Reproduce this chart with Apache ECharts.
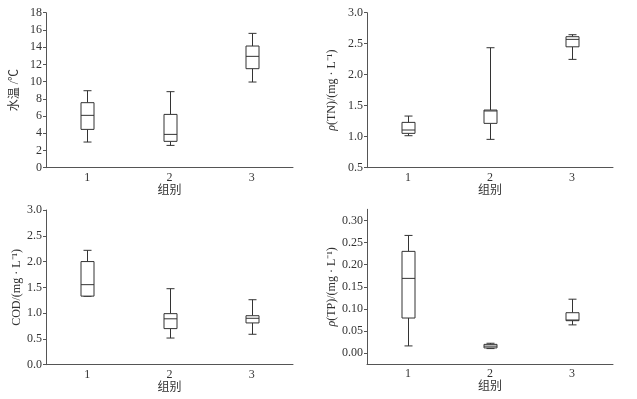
<!DOCTYPE html>
<html>
<head>
    <meta charset="utf-8">
    <title>ECharts</title>
    <script src="https://cdn.jsdelivr.net/npm/echarts@6/dist/echarts.min.js"></script>
    <style>
        body { margin: 0; background: #fff; }
    </style>
</head>
<body>
<div id="main" style="width:637px; height: 399px;"></div>
<script type="text/javascript">
    // 组别
    var groups = ['1', '2', '3'];
    // 每组: [下须, 下四分位, 中位数, 上四分位, 上须]
    var tempBox = [[2.98, 4.45, 6.08, 7.55, 8.94], [2.59, 3.06, 3.87, 6.19, 8.83], [9.95, 11.5, 12.93, 14.13, 15.6]];
    var tnBox = [[1.016, 1.054, 1.108, 1.231, 1.333], [0.957, 1.215, 1.415, 1.43, 2.435], [2.247, 2.45, 2.57, 2.613, 2.645]];
    var codBox = [[1.325, 1.33, 1.552, 2.0, 2.218], [0.517, 0.70, 0.89, 0.99, 1.474], [0.59, 0.81, 0.90, 0.95, 1.26]];
    var tpBox = [[0.0165, 0.0795, 0.169, 0.230, 0.266], [0.0105, 0.012, 0.016, 0.020, 0.0225], [0.064, 0.0735, 0.075, 0.0915, 0.122]];
    // TP 轴刻度
    var tpTicks = [0, 0.05, 0.10, 0.15, 0.20, 0.25, 0.30];

    var serif = '"Liberation Serif", "Noto Sans CJK SC"';
    var lineColor = '#333';

    function toData(box) {
        return box.map(function (b, i) { return [i].concat(b); });
    }

    // 自定义箱线图
    function renderBox(params, api) {
        var x = api.value(0);
        var lo = api.coord([x, api.value(1)]);
        var q1 = api.coord([x, api.value(2)]);
        var md = api.coord([x, api.value(3)]);
        var q3 = api.coord([x, api.value(4)]);
        var hi = api.coord([x, api.value(5)]);
        var cx = Math.round(lo[0]) + 0.5;
        var hw = 6.5, cw = 4;
        var st = { stroke: lineColor, lineWidth: 1, fill: null };
        return {
            type: 'group',
            children: [
                { type: 'line', shape: { x1: cx, y1: q3[1], x2: cx, y2: hi[1] }, style: st },
                { type: 'line', shape: { x1: cx - cw, y1: hi[1], x2: cx + cw, y2: hi[1] }, style: st },
                { type: 'line', shape: { x1: cx, y1: q1[1], x2: cx, y2: lo[1] }, style: st },
                { type: 'line', shape: { x1: cx - cw, y1: lo[1], x2: cx + cw, y2: lo[1] }, style: st },
                { type: 'rect', shape: { x: cx - hw, y: q3[1], width: hw * 2, height: q1[1] - q3[1] },
                    style: { stroke: lineColor, lineWidth: 1, fill: '#fff' } },
                { type: 'line', shape: { x1: cx - hw, y1: md[1], x2: cx + hw, y2: md[1] }, style: st }
            ]
        };
    }

    var grids = [
        { left: 46, top: 12.7, width: 247, height: 155 },
        { left: 367, top: 12.7, width: 246, height: 155 },
        { left: 46, top: 210, width: 247, height: 154.7 },
        { left: 367, top: 209.3, width: 246, height: 155 }
    ];

    function xAxisOf(i) {
        return {
            type: 'category', gridIndex: i, data: groups,
            name: '组别', nameLocation: 'middle', nameGap: 16,
            nameTextStyle: { fontFamily: serif, fontSize: 12, color: '#333' },
            axisLine: { onZero: false, lineStyle: { color: '#555', width: 1 } },
            axisTick: { alignWithLabel: true, inside: true, length: 3, lineStyle: { color: '#555' } },
            axisLabel: { fontFamily: serif, fontSize: 12, color: '#333', margin: 4 },
            splitLine: { show: false }
        };
    }

    function yAxisOf(i, name, gap, opts, digits) {
        var a = {
            type: 'value', gridIndex: i,
            name: name, nameLocation: 'middle', nameGap: gap,
            nameTextStyle: {
                fontFamily: serif, fontSize: 12, color: '#333',
                rich: { i: { fontFamily: serif, fontSize: 12, fontStyle: 'italic', color: '#333' } }
            },
            axisLine: { show: true, lineStyle: { color: '#555', width: 1 } },
            axisTick: { show: true, length: 3, lineStyle: { color: '#555' } },
            axisLabel: {
                fontFamily: serif, fontSize: 12, color: '#333', margin: 4,
                formatter: function (v) { return v.toFixed(digits); }
            },
            splitLine: { show: false }
        };
        for (var k in opts) {
            if (k === 'axisLabel' || k === 'axisTick') {
                for (var kk in opts[k]) a[k][kk] = opts[k][kk];
            } else {
                a[k] = opts[k];
            }
        }
        return a;
    }

    var myChart = echarts.init(document.getElementById('main'), null, { renderer: 'canvas' });

    var option = {
        backgroundColor: '#fff',
        animation: false,
        grid: grids,
        xAxis: [xAxisOf(0), xAxisOf(1), xAxisOf(2), xAxisOf(3)],
        yAxis: [
            yAxisOf(0, '水温 /℃', 25, { min: 0, max: 18, interval: 2 }, 0),
            yAxisOf(1, '{i|ρ}(TN)/(mg · L⁻¹)', 29, { min: 0.5, max: 3, interval: 0.5 }, 1),
            yAxisOf(2, 'COD/(mg · L⁻¹)', 23, { min: 0, max: 3, interval: 0.5 }, 1),
            yAxisOf(3, '{i|ρ}(TP)/(mg · L⁻¹)', 28, {
                min: -0.025, max: 0.325,
                axisLabel: { customValues: tpTicks },
                axisTick: { customValues: tpTicks }
            }, 2)
        ],
        series: [
            { type: 'custom', xAxisIndex: 0, yAxisIndex: 0, renderItem: renderBox, data: toData(tempBox), encode: { x: 0, y: [1, 2, 3, 4, 5] } },
            { type: 'custom', xAxisIndex: 1, yAxisIndex: 1, renderItem: renderBox, data: toData(tnBox), encode: { x: 0, y: [1, 2, 3, 4, 5] } },
            { type: 'custom', xAxisIndex: 2, yAxisIndex: 2, renderItem: renderBox, data: toData(codBox), encode: { x: 0, y: [1, 2, 3, 4, 5] } },
            { type: 'custom', xAxisIndex: 3, yAxisIndex: 3, renderItem: renderBox, data: toData(tpBox), encode: { x: 0, y: [1, 2, 3, 4, 5] } }
        ]
    };

    myChart.setOption(option);
</script>
</body>
</html>
